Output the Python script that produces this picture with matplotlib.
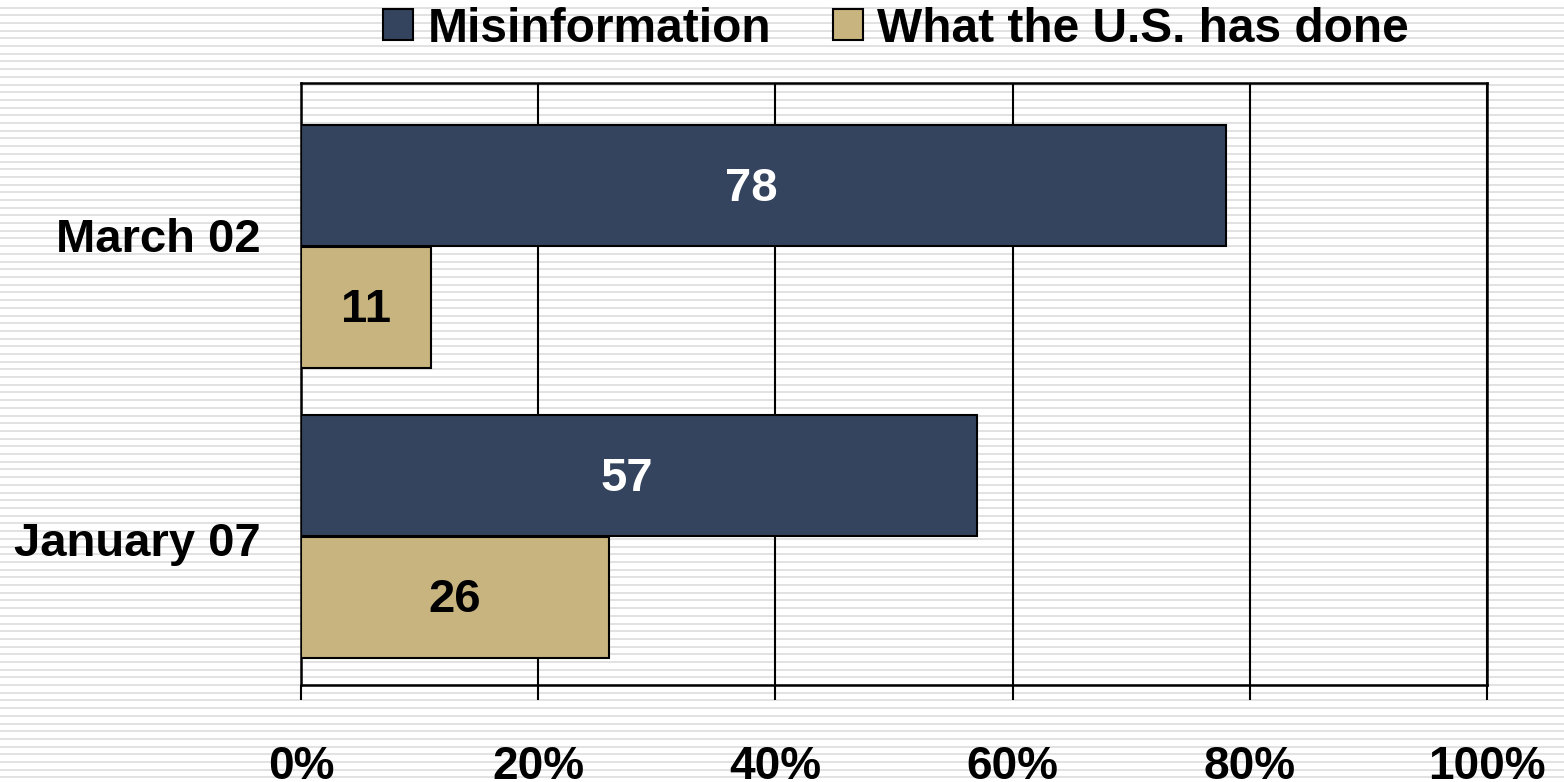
import matplotlib.pyplot as plt
import numpy as np

categories = ['March 02', 'January 07']
misinfo = [78, 57]
us_done = [11, 26]
xticks = [0, 20, 40, 60, 80, 100]

navy = '#35445E'
tan = '#C8B47F'

plt.rcParams['font.family'] = ['Liberation Sans', 'DejaVu Sans']
plt.rcParams['font.weight'] = 'bold'

fig = plt.figure(figsize=(15.64, 7.82), dpi=100)

# striped background
bg = fig.add_axes([0, 0, 1, 1], zorder=-10)
bg.set_xlim(0, 1)
bg.set_ylim(782, 0)
bg.hlines(np.arange(7.5, 782, 7.7), 0, 1, color='#dddddd', lw=1.2)
bg.axis('off')

ax = fig.add_axes([301/1564, 1-685/782, (1487-301)/1564, (685-83)/782])
ax.set_facecolor('none')

y = np.arange(len(categories))
h = 0.415
off = 0.21
b1 = ax.barh(y - off, misinfo, height=h, color=navy, edgecolor='black', lw=1.5,
             label='Misinformation', zorder=3)
b2 = ax.barh(y + off, us_done, height=h, color=tan, edgecolor='black', lw=1.5,
             label='What the U.S. has done', zorder=3)

for bar, v in zip(b1, misinfo):
    ax.text(v / 2 - 1, bar.get_y() + bar.get_height() / 2 + 0.01, str(v), color='white',
            ha='center', va='center', fontsize=34, fontweight='bold', zorder=4)
for bar, v in zip(b2, us_done):
    ax.text(v / 2, bar.get_y() + bar.get_height() / 2 + 0.01, str(v), color='black',
            ha='center', va='center', fontsize=34, fontweight='bold', zorder=4)

ax.set_xlim(0, 100)
ax.set_ylim(1.512, -0.564)
ax.set_xticks(xticks)
ax.set_xticklabels([f'{t}%' for t in xticks], fontsize=33, fontweight='bold')
ax.set_yticks([y[0] - 0.04, y[1] + 0.01])
ax.set_yticklabels(categories, fontsize=34, fontweight='bold')
ax.tick_params(axis='y', length=0, pad=29)
ax.tick_params(axis='x', length=11, width=1.5, pad=32, direction='out')
ax.grid(axis='x', color='black', lw=1.5, zorder=1)
for s in ax.spines.values():
    s.set_linewidth(1.8)
    s.set_color('black')

fig.legend(handles=[b1, b2], loc='center', bbox_to_anchor=(0.573, 1 - 29/782),
           ncol=2, frameon=False, fontsize=34.5, handlelength=0.62, handleheight=0.62,
           handletextpad=0.3, columnspacing=1.3, borderpad=0, borderaxespad=0)

fig.savefig('out.png', dpi=100)
